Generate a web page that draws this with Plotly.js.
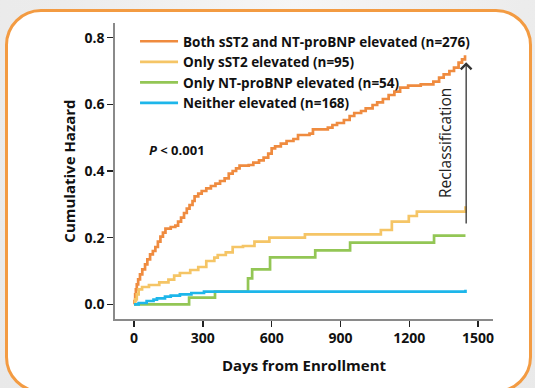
<!DOCTYPE html>
<html><head><meta charset="utf-8">
<script src="https://cdn.plot.ly/plotly-3.0.1.min.js"></script>
<style>
html,body{margin:0;padding:0;width:535px;height:388px;overflow:hidden;background:radial-gradient(ellipse at 55% 0%, #f6f6f6 0%, #ececec 55%, #e9e9e9 100%);}
#frame{position:absolute;left:5px;top:9px;width:521px;height:378px;border:3px solid #F39B42;border-radius:36px;background:#fff;}
#chart{position:absolute;left:0;top:0;width:535px;height:388px;}
</style></head><body>
<div id="frame"></div><div id="chart"></div>
<script>
// Both sST2 and NT-proBNP elevated (n=276)
const bothDays = [0,2,5,8,12,18,26,36,48,58,70,82,93,104,115,126,137,160,180,192,205,218,230,242,255,264,280,295,315,335,355,375,395,413,430,445,460,500,520,545,565,585,600,615,640,665,695,715,765,780,845,865,885,915,940,960,990,1010,1040,1060,1085,1110,1135,1160,1195,1250,1305,1330,1350,1375,1395,1415,1430,1443];
const bothHazard = [0,0.01,0.03,0.045,0.06,0.075,0.09,0.105,0.12,0.135,0.15,0.16,0.172,0.188,0.203,0.215,0.227,0.232,0.236,0.248,0.26,0.274,0.287,0.298,0.31,0.324,0.332,0.34,0.348,0.355,0.362,0.37,0.378,0.392,0.4,0.408,0.416,0.418,0.425,0.432,0.44,0.452,0.468,0.474,0.482,0.49,0.496,0.508,0.512,0.525,0.53,0.538,0.544,0.553,0.565,0.574,0.58,0.588,0.598,0.606,0.616,0.628,0.638,0.65,0.656,0.66,0.668,0.68,0.69,0.7,0.71,0.725,0.735,0.747];
// Only sST2 elevated (n=95)
const sst2Days = [0,5,12,20,35,65,110,150,175,200,245,280,315,350,365,400,430,475,525,590,745,1076,1124,1198,1233,1443,1445];
const sst2Hazard = [0,0.015,0.03,0.045,0.052,0.058,0.066,0.074,0.086,0.094,0.103,0.112,0.13,0.14,0.148,0.156,0.172,0.175,0.188,0.2,0.21,0.223,0.248,0.265,0.278,0.278,0.294];
// Only NT-proBNP elevated (n=54)
const ntDays = [0,240,353,497,515,593,790,942,1308,1445];
const ntHazard = [0,0.02,0.038,0.078,0.105,0.141,0.162,0.185,0.206,0.206];
// Neither elevated (n=168)
const neitherDays = [0,20,55,85,100,135,160,200,250,305,1443,1445];
const neitherHazard = [0,0.004,0.01,0.014,0.018,0.023,0.026,0.03,0.034,0.038,0.038,0.044];

const seriesNames = ['Both sST2 and NT-proBNP elevated (n=276)','Only sST2 elevated (n=95)','Only NT-proBNP elevated (n=54)','Neither elevated (n=168)'];
const seriesColors = ['#EF8B3F','#F5C566','#93C655','#1DB6EA'];
const xTicks = [0,300,600,900,1200,1500];
const yTicks = [0.0,0.2,0.4,0.6,0.8];
const yTickText = ['0.0','0.2','0.4','0.6','0.8'];
const arrowDay = 1448, arrowFrom = 0.238, arrowTo = 0.726;

const xs = [bothDays, sst2Days, ntDays, neitherDays];
const ys = [bothHazard, sst2Hazard, ntHazard, neitherHazard];
const traces = [];
[0,1,2,3].forEach(i => {
  traces.push({x: xs[i], y: ys[i], name: seriesNames[i], type:'scatter', mode:'lines',
    line:{shape:'hv', color: seriesColors[i], width:2.7}, hoverinfo:'skip'});
});

const F = '"Open Sans", "Noto Sans", sans-serif';
const layout = {
  width:535, height:388,
  paper_bgcolor:'rgba(0,0,0,0)', plot_bgcolor:'rgba(0,0,0,0)',
  margin:{l:115, r:42, t:23, b:69},
  showlegend:true,
  legend:{x:0.053, xanchor:'left', y:0.99, yanchor:'top', bgcolor:'rgba(0,0,0,0)',
    font:{family:F, size:13.5, color:'#111', weight:'bold'}, itemwidth:38, tracegroupgap:0},
  xaxis:{range:[-83,1565], tickvals:xTicks, ticktext:xTicks.map(String), ticks:'outside', ticklen:6, tickwidth:1.5, tickcolor:'#222',
    showline:true, linecolor:'#8a8a8a', linewidth:1.6, showgrid:false, zeroline:false,
    tickfont:{family:F, size:14, color:'#111', weight:'bold'},
    title:{text:'Days from Enrollment', font:{family:F, size:15, color:'#111', weight:'bold'}, standoff:14}},
  yaxis:{range:[-0.044,0.844], tickvals:yTicks, ticktext:yTickText, ticks:'outside', ticklen:6, tickwidth:1.5, tickcolor:'#222',
    showline:true, linecolor:'#8a8a8a', linewidth:1.6, showgrid:false, zeroline:false,
    tickfont:{family:F, size:14, color:'#111', weight:'bold'},
    title:{text:'Cumulative Hazard', font:{family:F, size:15, color:'#111', weight:'bold'}, standoff:5}},
  annotations:[
    {x:187, y:0.464, xref:'x', yref:'y', text:'<b><i>P</i> &lt; 0.001</b>', showarrow:false, font:{family:F, size:13, color:'#111'}},
    {x:1356, y:0.484, xref:'x', yref:'y', text:'Reclassification', textangle:-90, showarrow:false, font:{family:F, size:15.5, color:'#222'}},
    {x:arrowDay, y:arrowTo, ax:arrowDay, ay:arrowFrom, xref:'x', yref:'y', axref:'x', ayref:'y', text:'', showarrow:true,
      arrowhead:4, arrowsize:1.6, arrowwidth:1.3, arrowcolor:'#333'}
  ]
};
Plotly.newPlot('chart', traces, layout, {displayModeBar:false, staticPlot:true});
</script>
</body></html>
